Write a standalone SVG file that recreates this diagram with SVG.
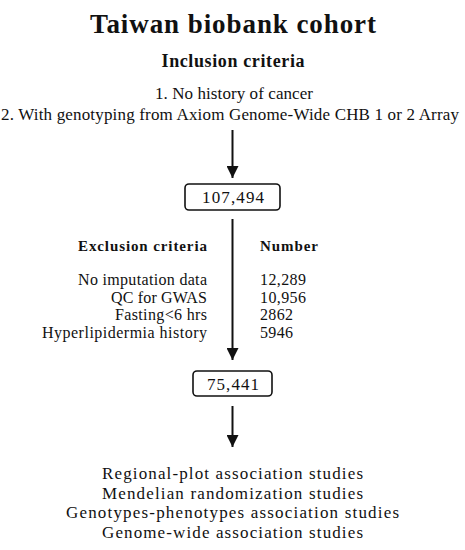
<svg xmlns="http://www.w3.org/2000/svg" width="465" height="550" viewBox="0 0 465 550">
<style>
text{font-family:"Liberation Serif","Times New Roman",serif;fill:#111}
.b{font-weight:bold}
.c{text-anchor:middle}
.r{text-anchor:end}
.box{fill:#fff;stroke:#111;stroke-width:1.6}
.ln{stroke:#111;stroke-width:2;fill:none}
</style>
<defs>
<marker id="ah" viewBox="0 0 12 12" refX="12" refY="6" markerWidth="12" markerHeight="12" markerUnits="userSpaceOnUse" orient="auto">
<path d="M0,0 L12,6 L0,12 Z" fill="#111"/>
</marker>
</defs>
<rect width="465" height="550" fill="#fff"/>
<g id="header">
<text class="b c" x="233" y="33" font-size="27" textLength="286" lengthAdjust="spacing">Taiwan biobank cohort</text>
<text class="b c" x="233" y="67" font-size="18" textLength="143" lengthAdjust="spacing">Inclusion criteria</text>
<text class="c" x="234" y="99" font-size="17" textLength="158" lengthAdjust="spacing">1. No history of cancer</text>
<text class="c" x="230" y="120" font-size="17" textLength="458" lengthAdjust="spacing">2. With genotyping from Axiom Genome-Wide CHB 1 or 2 Array</text>
</g>
<g id="connectors">
<line class="ln" x1="232.5" y1="130" x2="232.5" y2="178" marker-end="url(#ah)"/>
<line class="ln" x1="232.5" y1="219" x2="232.5" y2="360" marker-end="url(#ah)"/>
<line class="ln" x1="232.5" y1="406" x2="232.5" y2="447" marker-end="url(#ah)"/>
</g>
<g id="n107494">
<rect class="box" x="185" y="184" width="95" height="26" rx="4"/>
<text class="c" x="233" y="203" font-size="17" textLength="62" lengthAdjust="spacing">107,494</text>
</g>
<g id="exclusion">
<text class="b" x="78" y="251" font-size="15" textLength="129" lengthAdjust="spacing">Exclusion criteria</text>
<text class="b" x="260" y="251" font-size="15" textLength="58" lengthAdjust="spacing">Number</text>
<text class="r" x="207" y="285" font-size="16" textLength="129" lengthAdjust="spacing">No imputation data</text>
<text class="r" x="207" y="302.5" font-size="16" textLength="96" lengthAdjust="spacing">QC for GWAS</text>
<text class="r" x="207" y="320" font-size="16" textLength="92" lengthAdjust="spacing">Fasting&lt;6 hrs</text>
<text class="r" x="207" y="337.5" font-size="16" textLength="165" lengthAdjust="spacing">Hyperlipidermia history</text>
<text x="260" y="285" font-size="16" textLength="46" lengthAdjust="spacing">12,289</text>
<text x="260" y="302.5" font-size="16" textLength="46" lengthAdjust="spacing">10,956</text>
<text x="260" y="320" font-size="16" textLength="33" lengthAdjust="spacing">2862</text>
<text x="260" y="337.5" font-size="16" textLength="33" lengthAdjust="spacing">5946</text>
</g>
<g id="n75441">
<rect class="box" x="193" y="371" width="79" height="25" rx="4"/>
<text class="c" x="233" y="390" font-size="17" textLength="52" lengthAdjust="spacing">75,441</text>
</g>
<g id="studies">
<text class="c" x="232.5" y="479" font-size="17" textLength="261" lengthAdjust="spacing">Regional-plot association studies</text>
<text class="c" x="232.5" y="498.5" font-size="17" textLength="261" lengthAdjust="spacing">Mendelian randomization studies</text>
<text class="c" x="232.5" y="518" font-size="17" textLength="333" lengthAdjust="spacing">Genotypes-phenotypes association studies</text>
<text class="c" x="232.5" y="537.5" font-size="17" textLength="261" lengthAdjust="spacing">Genome-wide association studies</text>
</g>
</svg>
